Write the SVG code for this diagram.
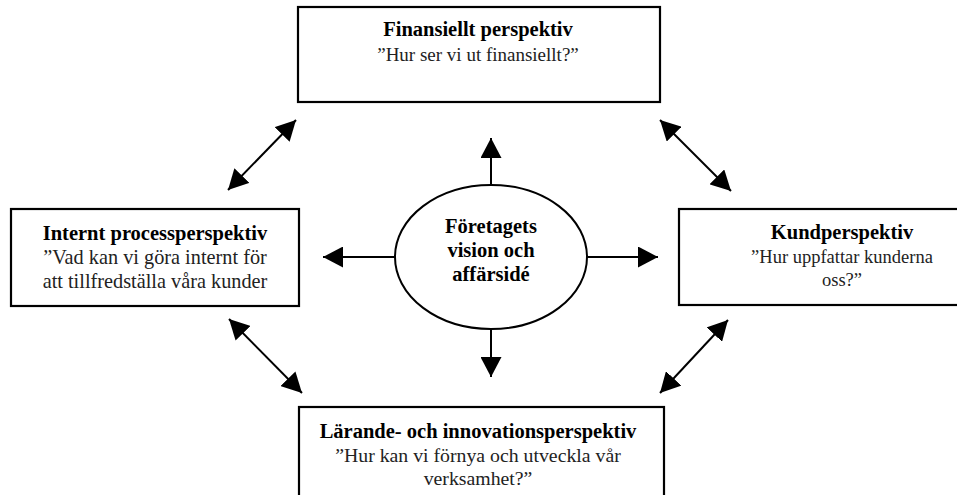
<svg xmlns="http://www.w3.org/2000/svg" width="957" height="495" viewBox="0 0 957 495">
<style>
.box{fill:#fff;stroke:#000;stroke-width:2.2}
text{font-family:"Liberation Serif","Times New Roman",serif;text-anchor:middle}
.b{font-weight:bold;font-size:20.5px;fill:#000}
.r{font-weight:normal;font-size:19px;fill:#222}
.c line{stroke:#000;stroke-width:2}
</style>
<defs>
<marker id="ah" markerUnits="userSpaceOnUse" viewBox="0 0 20 21" markerWidth="20" markerHeight="21" refX="20" refY="10.5" orient="auto-start-reverse">
<path d="M0,0 L20,10.5 L0,21 Z" fill="#000"/>
</marker>
</defs>
<rect width="957" height="495" fill="#fff"/>
<g class="c" id="connectors">
<line x1="491" y1="185" x2="491" y2="138" marker-end="url(#ah)"/>
<line x1="491" y1="329" x2="491" y2="377" marker-end="url(#ah)"/>
<line x1="395" y1="257" x2="323" y2="257" marker-end="url(#ah)"/>
<line x1="587" y1="257" x2="658" y2="257" marker-end="url(#ah)"/>
<line x1="228" y1="190" x2="296" y2="120" marker-start="url(#ah)" marker-end="url(#ah)"/>
<line x1="660" y1="120" x2="731" y2="191" marker-start="url(#ah)" marker-end="url(#ah)"/>
<line x1="229" y1="319" x2="302" y2="393" marker-start="url(#ah)" marker-end="url(#ah)"/>
<line x1="660" y1="393" x2="728" y2="320" marker-start="url(#ah)" marker-end="url(#ah)"/>
</g>
<g id="finansiellt">
<rect class="box" x="298" y="7" width="362" height="95"/>
<text class="b" x="478" y="36">Finansiellt perspektiv</text>
<text class="r" x="478" y="61">”Hur ser vi ut finansiellt?”</text>
</g>
<g id="internt">
<rect class="box" x="11" y="209" width="288" height="97"/>
<text class="b" x="155" y="240">Internt processperspektiv</text>
<text class="r" x="155" y="264" style="font-size:20.3px">”Vad kan vi göra internt för</text>
<text class="r" x="155" y="288" style="font-size:20.3px">att tillfredställa våra kunder</text>
</g>
<g id="vision">
<ellipse cx="491" cy="257" rx="96" ry="72" fill="#fff" stroke="#000" stroke-width="2"/>
<text class="b" x="491" y="233">Företagets</text>
<text class="b" x="491" y="257">vision och</text>
<text class="b" x="491" y="281">affärsidé</text>
</g>
<g id="kund">
<rect class="box" x="679" y="209" width="326" height="96"/>
<text class="b" x="842" y="239">Kundperspektiv</text>
<text class="r" x="842" y="263" style="font-size:18.5px">”Hur uppfattar kunderna</text>
<text class="r" x="842" y="286" style="font-size:18.5px">oss?”</text>
</g>
<g id="larande">
<rect class="box" x="299" y="407" width="365" height="110"/>
<text class="b" x="478" y="438">Lärande- och innovationsperspektiv</text>
<text class="r" x="478" y="462" style="font-size:19.8px">”Hur kan vi förnya och utveckla vår</text>
<text class="r" x="478" y="485" style="font-size:19.8px">verksamhet?”</text>
</g>
</svg>
